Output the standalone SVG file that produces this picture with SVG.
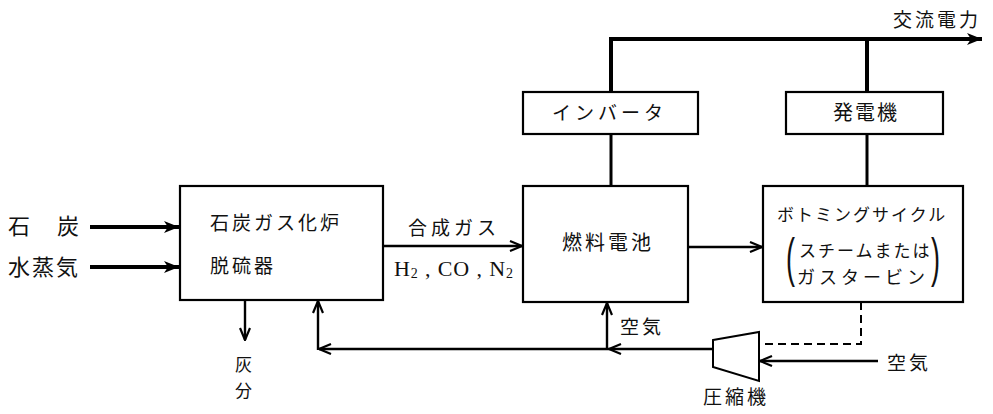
<svg xmlns="http://www.w3.org/2000/svg" width="993" height="414" viewBox="0 0 993 414">
<style>
.box{fill:#fff;stroke:#000;stroke-width:2.2}
.t{font-family:"Noto Sans CJK JP","Noto Sans CJK SC",sans-serif;font-size:19px;fill:#111}
.s{font-family:"Liberation Serif",serif;font-size:22px;fill:#111}
.ln{fill:none;stroke:#000;stroke-width:2.4}
.thick{fill:none;stroke:#000;stroke-width:4}
.dash{fill:none;stroke:#000;stroke-width:2;stroke-dasharray:8 5}
.p{font-family:"Liberation Sans",sans-serif;font-size:54px;fill:#111}
</style>
<defs>
<marker id="fa" markerUnits="userSpaceOnUse" markerWidth="16" markerHeight="12" refX="15" refY="6" orient="auto">
<path d="M0,0 L15,6 L0,12 L4,6 z" fill="#000"/>
</marker>
<marker id="oa" markerUnits="userSpaceOnUse" markerWidth="14" markerHeight="12" refX="13" refY="6" orient="auto">
<path d="M1,1 L13,6 L1,11" fill="none" stroke="#000" stroke-width="2.2"/>
</marker>
</defs>

<g id="connectors">
<line class="thick" x1="90" y1="227" x2="179" y2="227" marker-end="url(#fa)"/>
<line class="thick" x1="90" y1="267" x2="179" y2="267" marker-end="url(#fa)"/>
<line class="ln" x1="383" y1="246" x2="522" y2="246" marker-end="url(#oa)"/>
<line class="ln" x1="688" y1="247" x2="762" y2="247" marker-end="url(#oa)"/>
<line class="ln" x1="245" y1="300" x2="245" y2="340" marker-end="url(#oa)"/>
<path class="thick" d="M611,92 V39 H982" marker-end="url(#fa)"/>
<line class="thick" x1="867" y1="39" x2="867" y2="92"/>
<line class="ln" x1="611" y1="134" x2="611" y2="186" style="stroke-width:3"/>
<line class="ln" x1="867" y1="134" x2="867" y2="186" style="stroke-width:3"/>
<line class="ln" x1="713" y1="349" x2="609" y2="349" marker-end="url(#oa)"/>
<line class="ln" x1="609" y1="349" x2="319" y2="349" marker-end="url(#oa)"/>
<line class="ln" x1="318" y1="350" x2="318" y2="301" marker-end="url(#oa)"/>
<line class="ln" x1="607" y1="350" x2="607" y2="303" marker-end="url(#oa)"/>
<line class="ln" x1="878" y1="361" x2="760" y2="361" marker-end="url(#oa)"/>
<path class="dash" d="M861,302 V344 H760"/>
</g>

<g id="input-labels">
<text class="t" x="8" y="234" style="font-size:22px">石</text>
<text class="t" x="57" y="234" style="font-size:22px">炭</text>
<text class="t" x="8" y="275" style="font-size:22px;letter-spacing:2px">水蒸気</text>
</g>

<g id="gasifier">
<rect class="box" x="180" y="186" width="203" height="114"/>
<text class="t" x="210" y="230" style="letter-spacing:3px">石炭ガス化炉</text>
<text class="t" x="210" y="273" style="letter-spacing:3px">脱硫器</text>
</g>

<g id="syngas-label">
<text class="t" x="408" y="235" style="letter-spacing:4px">合成ガス</text>
<text class="s" x="394" y="276" textLength="119" lengthAdjust="spacing">H<tspan font-size="14" dy="2">2</tspan><tspan dy="-2"> , CO , N</tspan><tspan font-size="14" dy="2">2</tspan></text>
</g>

<g id="ash">
<text class="t" x="235" y="371" style="font-size:17px">灰</text>
<text class="t" x="235" y="397" style="font-size:17px">分</text>
</g>

<g id="fuelcell">
<rect class="box" x="523" y="186" width="165" height="116"/>
<text class="t" x="562" y="250" style="font-size:20px;letter-spacing:3px">燃料電池</text>
</g>

<g id="inverter">
<rect class="box" x="523" y="92" width="175" height="42"/>
<text class="t" x="552" y="120" style="letter-spacing:4px">インバータ</text>
</g>

<g id="generator">
<rect class="box" x="786" y="92" width="157" height="42"/>
<text class="t" x="833" y="120" style="font-size:20px;letter-spacing:2px">発電機</text>
</g>

<g id="ac-power">
<text class="t" x="893" y="27" style="letter-spacing:3px">交流電力</text>
</g>

<g id="bottoming">
<rect class="box" x="763" y="186" width="200" height="116"/>
<text class="t" x="777" y="221" style="font-size:17px;letter-spacing:2px">ボトミングサイクル</text>
<text class="p" transform="translate(786,276) scale(0.5,1)">(</text>
<text class="p" transform="translate(931,276) scale(0.5,1)">)</text>
<text class="t" x="799" y="257" style="font-size:17px;letter-spacing:2px">スチームまたは</text>
<text class="t" x="797" y="284" style="font-size:18px;letter-spacing:4px">ガスタービン</text>
</g>

<g id="air-fc">
<text class="t" x="620" y="334" style="letter-spacing:3px">空気</text>
</g>

<g id="compressor">
<polygon points="713,340 759,332 759,381 713,367" fill="#fff" stroke="#000" stroke-width="2"/>
<text class="t" x="703" y="404" style="letter-spacing:3px">圧縮機</text>
</g>

<g id="air-in">
<text class="t" x="887" y="370" style="letter-spacing:3px">空気</text>
</g>
</svg>
